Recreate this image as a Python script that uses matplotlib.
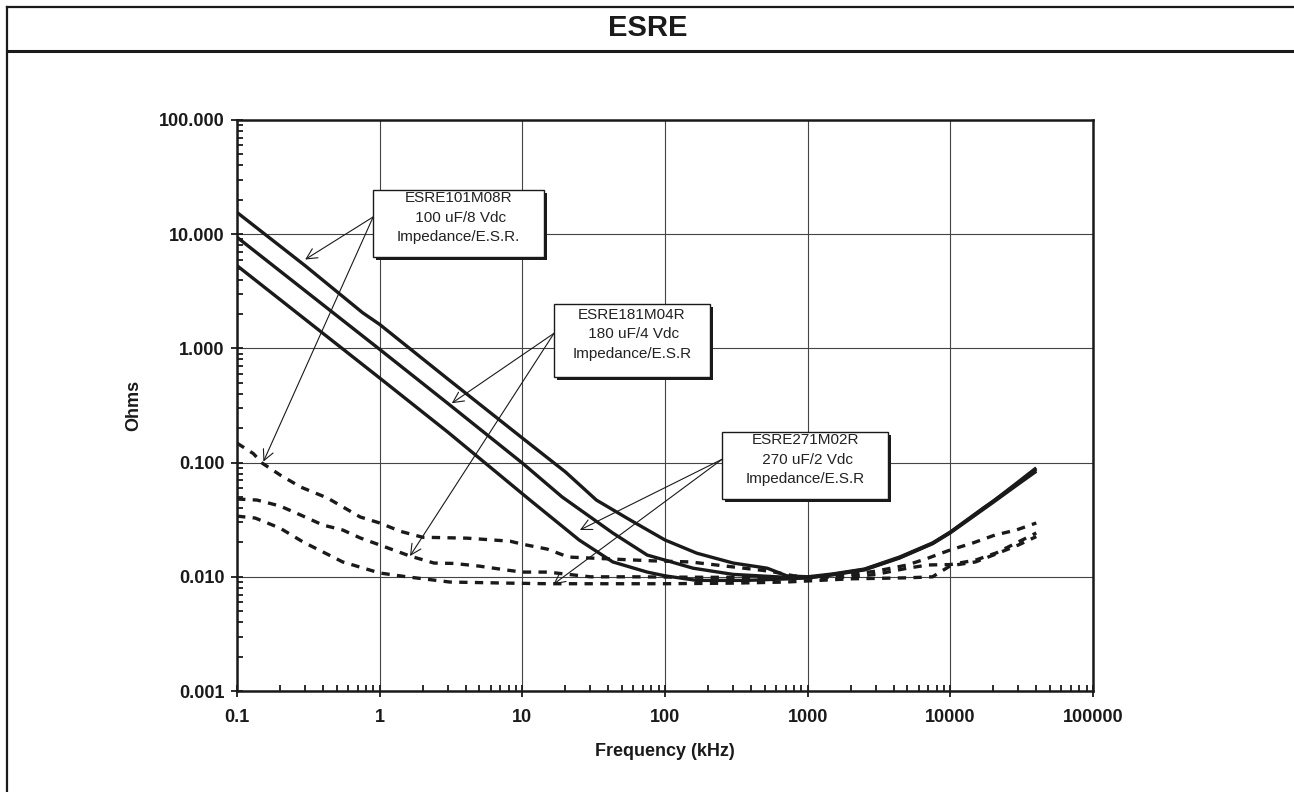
import matplotlib
matplotlib.use('Agg')
import matplotlib.pyplot as plt
import matplotlib.patheffects as pe
from matplotlib.lines import Line2D
from matplotlib.patches import Rectangle
from matplotlib.ticker import FixedLocator, LogLocator, NullFormatter

plt.rcParams['font.family'] = ['Liberation Sans', 'DejaVu Sans']

# impedance curves (solid), kHz / Ohms
imp_100_f = [0.1, 0.3, 0.76, 1, 3, 10, 20, 33, 57, 100, 167, 300, 520, 714, 1000,
             1500, 2500, 4400, 7500, 10000, 17000, 20000, 30000, 40000]
imp_100 = [15.5, 5.3, 2.05, 1.62, 0.54, 0.164, 0.083, 0.047, 0.0314, 0.021, 0.0161,
           0.0132, 0.0119, 0.0102, 0.0100, 0.0106, 0.0117, 0.0149, 0.0198, 0.0247,
           0.040, 0.046, 0.068, 0.090]
imp_180_f = [0.1, 1, 3, 10, 19, 43, 75, 100, 157, 300, 700, 1000, 1500, 2500, 4400,
             7500, 10000, 20000, 30000, 40000]
imp_180 = [9.4, 0.98, 0.33, 0.099, 0.050, 0.0242, 0.0155, 0.0140, 0.0119, 0.0105,
           0.0099, 0.0098, 0.0105, 0.0116, 0.0147, 0.0196, 0.0245, 0.046, 0.066, 0.087]
imp_270_f = [0.1, 1, 3, 11.3, 25, 43, 75, 100, 167, 370, 730, 1000, 1500, 2500, 4400,
             7500, 10000, 20000, 30000, 40000]
imp_270 = [5.3, 0.55, 0.185, 0.047, 0.021, 0.0135, 0.0110, 0.0102, 0.0093, 0.0093,
           0.0096, 0.0098, 0.0104, 0.0115, 0.0146, 0.0195, 0.0243, 0.045, 0.065, 0.084]

# ESR curves (dashed)
esr_a_f = [0.1, 0.13, 0.15, 0.2, 0.28, 0.43, 0.73, 1, 1.4, 2, 4.1, 8.2, 10, 14.9, 21,
           43, 82, 150, 300, 540, 800, 1000, 2000, 3000, 5000, 7000, 10000, 14400,
           20500, 29000, 40000]
esr_a = [0.148, 0.12, 0.099, 0.078, 0.061, 0.049, 0.0334, 0.0296, 0.025, 0.0222,
         0.0218, 0.0205, 0.0193, 0.0175, 0.0149, 0.0143, 0.0138, 0.0135, 0.0122,
         0.0112, 0.0102, 0.0100, 0.0105, 0.0112, 0.0127, 0.0146, 0.0172, 0.0198,
         0.0232, 0.0257, 0.0296]
esr_b_f = [0.1, 0.138, 0.2, 0.28, 0.4, 0.55, 0.73, 1, 1.63, 2.4, 3.3, 5, 8, 10, 15,
           30, 60, 200, 500, 1000, 2000, 3000, 5000, 7000, 10000, 15000, 21000,
           29000, 40000]
esr_b = [0.048, 0.047, 0.0417, 0.0347, 0.0284, 0.0257, 0.0219, 0.019, 0.0152, 0.0132,
         0.0131, 0.0124, 0.0114, 0.0110, 0.0110, 0.0100, 0.0100, 0.0099, 0.0099,
         0.0098, 0.0100, 0.0105, 0.0119, 0.0127, 0.0128, 0.0140, 0.0162, 0.0198,
         0.0242]
esr_c_f = [0.1, 0.134, 0.2, 0.29, 0.4, 0.55, 1, 1.55, 3.1, 8.2, 15, 43, 100, 300, 700,
           1000, 2000, 5000, 7500, 10000, 15000, 20000, 30000, 40000]
esr_c = [0.034, 0.0327, 0.0267, 0.0202, 0.0165, 0.0135, 0.0108, 0.0100, 0.0090,
         0.0088, 0.0087, 0.0087, 0.0087, 0.0088, 0.0090, 0.0092, 0.0096, 0.0098,
         0.0100, 0.0125, 0.0135, 0.0155, 0.0190, 0.0225]

x_ticks = [0.1, 1, 10, 100, 1000, 10000, 100000]
x_labels = ['0.1', '1', '10', '100', '1000', '10000', '100000']
y_ticks = [0.001, 0.01, 0.1, 1, 10, 100]
y_labels = ['0.001', '0.010', '0.100', '1.000', '10.000', '100.000']

# callouts: text, box (axes fraction x0, y0, x1, y1), arrow targets (kHz, Ohms)
note_texts = ['ESRE101M08R\n 100 uF/8 Vdc\nImpedance/E.S.R.',
              'ESRE181M04R\n 180 uF/4 Vdc\nImpedance/E.S.R',
              'ESRE271M02R\n 270 uF/2 Vdc\nImpedance/E.S.R']
note_boxes = [(0.159, 0.7595, 0.3587, 0.8774),
              (0.3703, 0.5504, 0.5526, 0.6772),
              (0.567, 0.3357, 0.760, 0.4531)]
note_targets = [[(0.30, 6.0), (0.153, 0.102)],
                [(3.2, 0.331), (1.63, 0.0152)],
                [(25.3, 0.0257), (16.5, 0.0086)]]

fig = plt.figure(figsize=(12.94, 7.92), dpi=100)
ax = fig.add_axes([0.1832, 0.1275, 0.6615, 0.7210])

ax.set_xscale('log')
ax.set_yscale('log')
ax.set_xlim(0.1, 100000)
ax.set_ylim(0.001, 100)

for f, z in [(imp_100_f, imp_100), (imp_180_f, imp_180), (imp_270_f, imp_270)]:
    ax.plot(f, z, color='#1a1a1a', lw=2.4, solid_capstyle='butt', zorder=3)
for f, z in [(esr_a_f, esr_a), (esr_b_f, esr_b), (esr_c_f, esr_c)]:
    ax.plot(f, z, color='#1a1a1a', lw=2.4, linestyle=(0, (2.5, 2.2)), zorder=3)

ax.xaxis.set_major_locator(FixedLocator(x_ticks))
ax.set_xticklabels(x_labels)
ax.yaxis.set_major_locator(FixedLocator(y_ticks))
ax.set_yticklabels(y_labels)
ax.xaxis.set_minor_locator(LogLocator(base=10, subs=range(2, 10), numticks=20))
ax.yaxis.set_minor_locator(LogLocator(base=10, subs=range(2, 10), numticks=20))
ax.xaxis.set_minor_formatter(NullFormatter())
ax.yaxis.set_minor_formatter(NullFormatter())

ax.tick_params(which='major', direction='inout', length=8, width=1.3,
               labelsize=13, color='#1a1a1a')
ax.tick_params(axis='y', which='major', pad=5)
ax.tick_params(axis='x', which='major', pad=9)
ax.tick_params(which='minor', direction='in', length=4.5, width=1.3, color='#1a1a1a')
for lab in ax.get_xticklabels() + ax.get_yticklabels():
    lab.set_fontweight('bold')
    lab.set_color('#1a1a1a')

ax.grid(True, which='major', color='#444444', lw=0.8)
for s in ax.spines.values():
    s.set_linewidth(1.8)
    s.set_color('#1a1a1a')

ax.set_xlabel('Frequency (kHz)', fontsize=13, fontweight='bold', labelpad=12,
              color='#1a1a1a')
ax.set_ylabel('Ohms', fontsize=13, fontweight='bold', color='#1a1a1a')
ax.yaxis.set_label_coords(-0.111, 0.5)

for txt, (x0, y0, x1, y1), targets in zip(note_texts, note_boxes, note_targets):
    rect = Rectangle((x0, y0), x1 - x0, y1 - y0, transform=ax.transAxes,
                     facecolor='white', edgecolor='#1a1a1a', lw=1.0, zorder=6,
                     clip_on=False)
    rect.set_path_effects([pe.SimplePatchShadow(offset=(2.2, -2.2),
                                                shadow_rgbFace='#1a1a1a', alpha=1.0),
                           pe.Normal()])
    ax.add_patch(rect)
    ax.text((x0 + x1) / 2, y1 - (y1 - y0) * 0.41, txt, transform=ax.transAxes,
            ha='center', va='center', multialignment='center', fontsize=11,
            linespacing=1.5, color='#222222', zorder=7)
    for tx, ty in targets:
        ax.annotate('', xy=(tx, ty), xycoords='data',
                    xytext=(x0, y0 + (y1 - y0) * 0.6), textcoords='axes fraction',
                    arrowprops=dict(arrowstyle='->', color='#1a1a1a', lw=0.8,
                                    mutation_scale=19, shrinkA=0, shrinkB=0),
                    zorder=5)

# outer frame and title bar
fig.add_artist(Line2D([0.0054, 0.0054], [0.0, 0.9912], color='#1a1a1a', lw=1.6))
fig.add_artist(Line2D([0.0054, 1.0], [0.9912, 0.9912], color='#1a1a1a', lw=1.6))
fig.add_artist(Line2D([0.0054, 1.0], [0.9356, 0.9356], color='#1a1a1a', lw=2.2))
fig.text(0.5008, 0.9646, 'ESRE', ha='center', va='center', fontsize=21,
         fontweight='bold', color='#1a1a1a')

fig.savefig('out.png', dpi=100)
